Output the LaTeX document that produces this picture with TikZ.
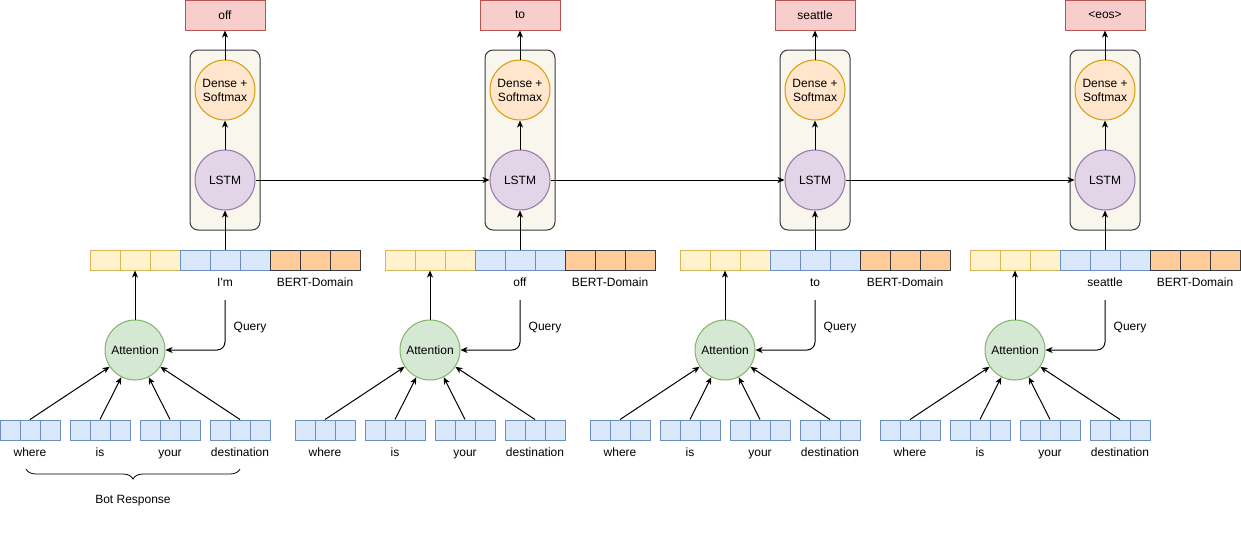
\documentclass[tikz,border=0pt]{standalone}
\usepackage{fontspec}
\setmainfont{Liberation Sans}
\usepackage{xcolor}
\usetikzlibrary{arrows.meta, positioning, decorations.pathreplacing}

\definecolor{outfill}{HTML}{F8CECC}
\definecolor{outdraw}{HTML}{B85450}
\definecolor{densefill}{HTML}{FFE6CC}
\definecolor{densedraw}{HTML}{D79B00}
\definecolor{lstmfill}{HTML}{E1D5E7}
\definecolor{lstmdraw}{HTML}{9673A6}
\definecolor{attfill}{HTML}{D5E8D4}
\definecolor{attdraw}{HTML}{82B366}
\definecolor{bluefill}{HTML}{DAE8FC}
\definecolor{bluedraw}{HTML}{6C8EBF}
\definecolor{yelfill}{HTML}{FFF2CC}
\definecolor{yeldraw}{HTML}{D6B656}
\definecolor{orgfill}{HTML}{FFCC99}
\definecolor{darkdraw}{HTML}{36393D}
\definecolor{stackfill}{HTML}{F9F7ED}

\begin{document}
\begin{tikzpicture}[x=1pt,y=-1pt,line width=1pt,
  >={Stealth[length=7pt,width=6pt,inset=2pt]},
  font=\fontsize{12}{14}\selectfont,
  out node/.style={rectangle,draw=outdraw,fill=outfill,minimum width=80pt,minimum height=30pt,inner sep=0pt},
  stack node/.style={rectangle,rounded corners=8pt,draw=darkdraw,fill=stackfill,minimum width=70pt,minimum height=180pt},
  dense node/.style={circle,draw=densedraw,fill=densefill,minimum size=60pt,inner sep=0pt,align=center,font=\fontsize{12}{14}\selectfont},
  lstm node/.style={circle,draw=lstmdraw,fill=lstmfill,minimum size=60pt,inner sep=0pt},
  att node/.style={circle,draw=attdraw,fill=attfill,minimum size=60pt,inner sep=0pt},
  cell/.style={rectangle,minimum width=30pt,minimum height=20pt,inner sep=0pt},
  ycell/.style={cell,draw=yeldraw,fill=yelfill},
  bcell/.style={cell,draw=bluedraw,fill=bluefill},
  ocell/.style={cell,draw=darkdraw,fill=orgfill},
  wcell/.style={bcell,minimum width=20pt},
  lbl/.style={inner sep=0pt,text height=9pt,text depth=3pt}]

  \useasboundingbox (0,0) rectangle (1241,539);

  \foreach \b/\ox/\tok/\out in {1/0/I\textquotesingle m/off, 2/295/off/to,
      3/590/to/seattle, 4/880/seattle/{<eos>}} {
    \begin{scope}[xshift=\ox pt]
      % decoder step
      \node[out node] (out\b) at (225,15) {\out};
      \node[stack node] (stack\b) at (225,140) {};
      \node[dense node] (dense\b) at (225,90) {Dense +\\Softmax};
      \node[lstm node] (lstm\b) at (225,180) {LSTM};
      \draw[->] (lstm\b) -- (dense\b);
      \draw[->] (dense\b) -- (out\b);

      % input vector
      \foreach \c in {0,1,2} \node[ycell] (v\b-\c) at ({105+30*\c},260) {};
      \foreach \c in {3,4,5} \node[bcell] (v\b-\c) at ({105+30*\c},260) {};
      \foreach \c in {6,7,8} \node[ocell] (v\b-\c) at ({105+30*\c},260) {};
      \node[lbl,below=6pt of v\b-4] (tok\b) {\tok};
      \node[lbl,below=6pt of v\b-7] (bert\b) {BERT-Domain};
      \draw[->] (v\b-4.north) -- (lstm\b);

      % attention over bot response
      \node[att node] (att\b) at (135,350) {Attention};
      \draw[->] (att\b) -- (v\b-1.south);
      \coordinate (q\b) at (225,300);
      \draw[->,rounded corners=8pt] (q\b) |- (att\b);
      \node (query\b) at (250,328) {Query};

      \foreach \w/\word in {0/where,1/is,2/your,3/destination} {
        \foreach \c in {0,1,2} \node[wcell] (w\b-\w-\c) at ({70*\w+10+20*\c},430) {};
        \node[lbl,below=6pt of w\b-\w-1] (word\b-\w) {\word};
        \draw[->] (w\b-\w-1.north) -- (att\b);
      }
    \end{scope}
  }

  \foreach \a/\c in {1/2,2/3,3/4} \draw[->] (lstm\a) -- (lstm\c);

  \coordinate (bra) at (26,469);
  \coordinate (brb) at (240,469);
  \draw[line width=0.8pt,decorate,decoration={brace,mirror,amplitude=10pt}] (bra) -- (brb);
  \node (bot) at (133,501) {Bot Response};
\end{tikzpicture}
\end{document}
